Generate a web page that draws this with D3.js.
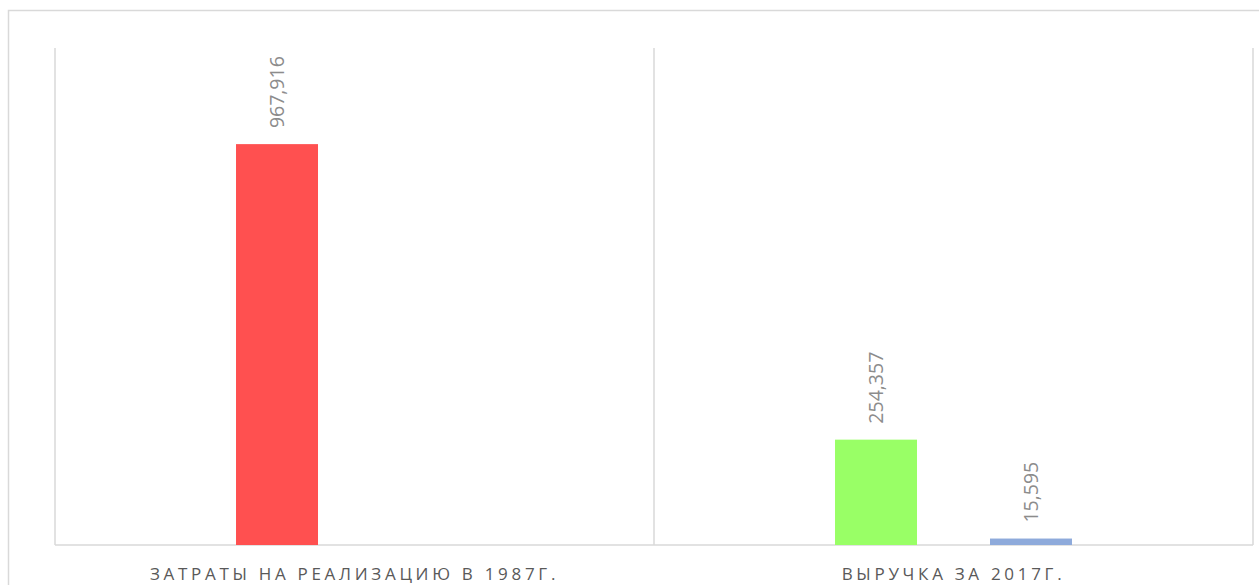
<!DOCTYPE html>
<html>
<head>
<meta charset="utf-8">
<script src="https://cdn.jsdelivr.net/npm/d3@7"></script>
<style>
html,body{margin:0;padding:0;background:#fff;}
svg{display:block;}
</style>
</head>
<body>
<svg id="chart" width="1259" height="585"></svg>
<script>
const categories = ["ЗАТРАТЫ НА РЕАЛИЗАЦИЮ В 1987Г.", "ВЫРУЧКА ЗА 2017Г."];
const seriesA = [967916, 254357];
const seriesB = [null, 15595];
const seriesAColors = ["#ff5050", "#99ff66"];
const seriesBColor = "#8eaadb";
const yDomain = [0, 1200000];

const svg = d3.select("#chart");
const W = 1259, H = 585;
const m = {left: 55, right: 6, top: 48, bottom: 40};
const plotW = W - m.left - m.right, plotH = H - m.top - m.bottom;

// outer frame
svg.append("rect").attr("x", 8.5).attr("y", 10.5).attr("width", W + 10).attr("height", H + 10)
  .attr("fill", "none").attr("stroke", "#d9d9d9").attr("stroke-width", 1.5);

const g = svg.append("g").attr("transform", `translate(${m.left},${m.top})`);

const x = d3.scaleBand().domain(categories).range([0, plotW]).paddingInner(0).paddingOuter(0);
const y = d3.scaleLinear().domain(yDomain).range([plotH, 0]);

// vertical category separators
const bounds = [0, ...categories.map(c => x(c) + x.bandwidth())];
g.selectAll("line.vgrid").data(bounds).enter().append("line")
  .attr("class", "vgrid")
  .attr("x1", d => d).attr("x2", d => d)
  .attr("y1", 0).attr("y2", plotH)
  .attr("stroke", "#d9d9d9").attr("stroke-width", 1.5);

// baseline
g.append("line").attr("x1", 0).attr("x2", plotW).attr("y1", y(0)).attr("y2", y(0))
  .attr("stroke", "#d9d9d9").attr("stroke-width", 1.5);

const inner = d3.scaleBand().domain(["A", "B"]).range([0, x.bandwidth()]).paddingInner(0.471).paddingOuter(1.168);

const rows = [];
categories.forEach((c, i) => {
  if (seriesA[i] != null) rows.push({cat: c, s: "A", v: seriesA[i], color: seriesAColors[i]});
  if (seriesB[i] != null) rows.push({cat: c, s: "B", v: seriesB[i], color: seriesBColor});
});

g.selectAll("rect.bar").data(rows).enter().append("rect")
  .attr("class", "bar")
  .attr("x", d => x(d.cat) + inner(d.s))
  .attr("width", inner.bandwidth())
  .attr("y", d => y(d.v))
  .attr("height", d => y(0) - y(d.v))
  .attr("fill", d => d.color);

const fmt = d3.format(",");
g.selectAll("text.lbl").data(rows).enter().append("text")
  .attr("class", "lbl")
  .attr("transform", d => `translate(${x(d.cat) + inner(d.s) + inner.bandwidth() / 2 + 7},${y(d.v) - 16}) rotate(-90)`)
  .attr("text-anchor", "start")
  .attr("font-family", "'Open Sans', sans-serif")
  .attr("font-size", 19.5)
  .attr("fill", "#8c8c8c")
  .text(d => fmt(d.v));

// category labels
g.selectAll("text.cat").data(categories).enter().append("text")
  .attr("class", "cat")
  .attr("x", d => x(d) + x.bandwidth() / 2)
  .attr("y", plotH + 35)
  .attr("text-anchor", "middle")
  .attr("font-family", "'Open Sans', sans-serif")
  .attr("font-size", 17)
  .attr("letter-spacing", "3.7px")
  .attr("fill", "#595959")
  .text(d => d);
</script>
</body>
</html>
